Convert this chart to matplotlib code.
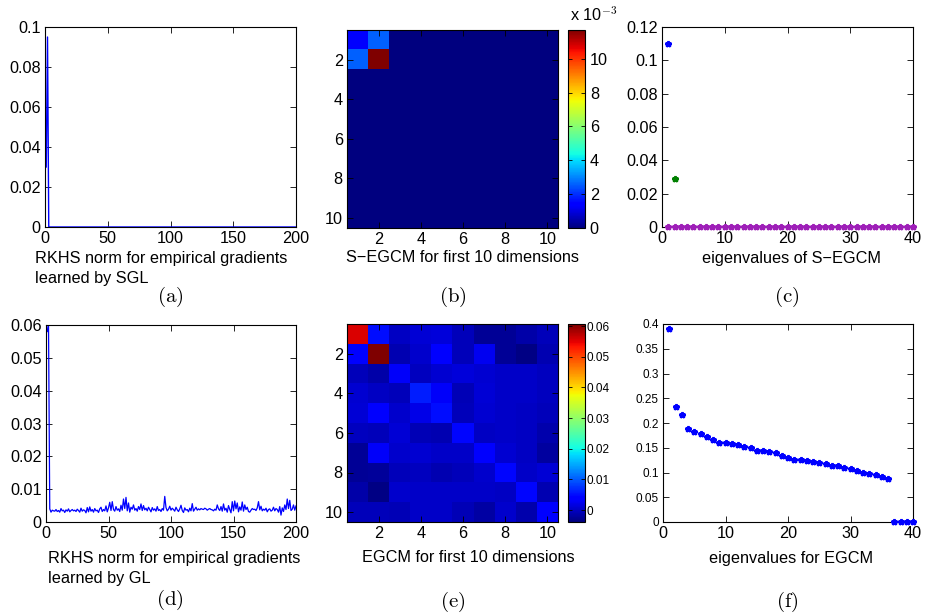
import numpy as np
import matplotlib
matplotlib.use("Agg")
import matplotlib.pyplot as plt
from matplotlib.ticker import FuncFormatter, FormatStrFormatter

plt.rcParams['font.family'] = ['Liberation Sans', 'DejaVu Sans']
plt.rcParams['mathtext.fontset'] = 'cm'

# ---------------- data ----------------
# (a) RKHS norm, SGL (200 dims)
sgl_norm_head = [0.030, 0.095]          # first two dims, rest are zero
n_dims = 200

# (d) RKHS norm, GL (200 dims)
gl_norm = [
    0.058, 0.0605, 0.0040, 0.0030, 0.0036, 0.0034, 0.0033, 0.0038, 0.0032, 0.0035,
    0.0030, 0.0041, 0.0034, 0.0036, 0.0029, 0.0037, 0.0033, 0.0040, 0.0031, 0.0035,
    0.0038, 0.0034, 0.0036, 0.0032, 0.0039, 0.0035, 0.0030, 0.0042, 0.0033, 0.0037,
    0.0035, 0.0028, 0.0044, 0.0031, 0.0046, 0.0033, 0.0038, 0.0030, 0.0041, 0.0034,
    0.0036, 0.0029, 0.0040, 0.0045, 0.0032, 0.0038, 0.0034, 0.0049, 0.0031, 0.0043,
    0.0060, 0.0035, 0.0062, 0.0038, 0.0033, 0.0047, 0.0036, 0.0040, 0.0032, 0.0051,
    0.0036, 0.0070, 0.0041, 0.0075, 0.0034, 0.0058, 0.0030, 0.0045, 0.0039, 0.0052,
    0.0036, 0.0041, 0.0033, 0.0047, 0.0038, 0.0055, 0.0035, 0.0050, 0.0037, 0.0042,
    0.0034, 0.0045, 0.0038, 0.0031, 0.0044, 0.0036, 0.0040, 0.0033, 0.0047, 0.0035,
    0.0038, 0.0032, 0.0041, 0.0036, 0.0078, 0.0044, 0.0034, 0.0039, 0.0048, 0.0036,
    0.0042, 0.0038, 0.0033, 0.0045, 0.0037, 0.0032, 0.0040, 0.0051, 0.0035, 0.0029,
    0.0043, 0.0036, 0.0038, 0.0031, 0.0042, 0.0034, 0.0056, 0.0033, 0.0039, 0.0045,
    0.0036, 0.0040, 0.0037, 0.0041, 0.0039, 0.0038, 0.0042, 0.0040, 0.0036, 0.0039,
    0.0041, 0.0038, 0.0037, 0.0034, 0.0039, 0.0036, 0.0052, 0.0040, 0.0035, 0.0047,
    0.0033, 0.0055, 0.0036, 0.0042, 0.0030, 0.0050, 0.0038, 0.0028, 0.0062, 0.0034,
    0.0064, 0.0040, 0.0058, 0.0031, 0.0046, 0.0036, 0.0061, 0.0033, 0.0052, 0.0038,
    0.0045, 0.0032, 0.0030, 0.0036, 0.0041, 0.0038, 0.0039, 0.0035, 0.0043, 0.0062,
    0.0037, 0.0048, 0.0034, 0.0039, 0.0036, 0.0042, 0.0031, 0.0038, 0.0040, 0.0033,
    0.0036, 0.0045, 0.0034, 0.0041, 0.0038, 0.0030, 0.0047, 0.0021, 0.0043, 0.0032,
    0.0052, 0.0038, 0.0070, 0.0041, 0.0066, 0.0035, 0.0039, 0.0052, 0.0036, 0.0049,
]

# (b) S-EGCM first 10 dims (only 2x2 block non-zero)
segcm_block = [[0.0013, 0.0026],
               [0.0026, 0.0117]]
segcm_vmax = 0.0117

# (e) EGCM first 10 dims
egcm = [
    [0.0555, 0.0050, 0.0000, 0.0010, 0.0012, -0.0005, -0.0025, -0.0025, -0.0015, -0.0005],
    [0.0040, 0.0607, -0.0010, 0.0005, 0.0040, -0.0005, 0.0025, -0.0025, -0.0035, -0.0010],
    [-0.0005, -0.0015, 0.0030, -0.0002, 0.0008, 0.0012, 0.0008, 0.0003, 0.0003, -0.0002],
    [0.0008, 0.0001, -0.0005, 0.0060, 0.0030, -0.0008, 0.0010, 0.0003, 0.0002, -0.0003],
    [0.0010, 0.0040, 0.0006, 0.0020, 0.0050, -0.0006, 0.0008, 0.0003, 0.0000, -0.0005],
    [-0.0003, -0.0006, 0.0009, -0.0008, -0.0009, 0.0045, 0.0000, 0.0003, 0.0000, -0.0012],
    [-0.0025, 0.0030, 0.0006, 0.0008, 0.0002, 0.0002, 0.0040, 0.0007, -0.0001, -0.0020],
    [-0.0025, -0.0022, -0.0005, -0.0002, -0.0009, -0.0005, 0.0005, 0.0045, 0.0002, 0.0010],
    [-0.0015, -0.0035, 0.0006, 0.0003, 0.0003, 0.0003, 0.0002, 0.0000, 0.0045, -0.0010],
    [-0.0005, -0.0005, -0.0008, 0.0002, 0.0002, -0.0008, -0.0018, 0.0006, -0.0012, 0.0040],
]
egcm_vmin, egcm_vmax = -0.0039, 0.0607

# (c) eigenvalues of S-EGCM
eig_s_first = [0.110]
eig_s_second = [0.029]
n_eig = 40

# (f) eigenvalues of EGCM
eig_full = [0.390, 0.233, 0.216, 0.188, 0.182, 0.178, 0.171, 0.165, 0.160, 0.160,
            0.157, 0.155, 0.152, 0.150, 0.144, 0.143, 0.142, 0.139, 0.133, 0.129,
            0.126, 0.125, 0.123, 0.121, 0.119, 0.117, 0.113, 0.113, 0.109, 0.108,
            0.103, 0.100, 0.097, 0.094, 0.091, 0.086, 0.0, 0.0, 0.0, 0.0]

# ---------------- layout ----------------
W, H = 931, 613
fig = plt.figure(figsize=(W / 100, H / 100), dpi=100)

FS = 11.7


def rect(l, t, r, b):
    return [l / W, 1 - b / H, (r - l) / W, (b - t) / H]


def matlab_style(ax, fs=FS):
    ax.tick_params(direction='in', top=True, right=True, length=4, width=0.6,
                   labelsize=fs, pad=3)
    for s in ax.spines.values():
        s.set_linewidth(0.8)


def ftext(x, y, s, **kw):
    fig.text(x / W, 1 - y / H, s, va='center', **kw)


blue = (0, 0, 1)
MK = dict(linestyle='none', marker='*', ms=4, mew=1.8, clip_on=False)

# (a)
axa = fig.add_axes(rect(45, 27, 296, 227))
ya = np.zeros(n_dims)
ya[:len(sgl_norm_head)] = sgl_norm_head
axa.plot(np.arange(1, n_dims + 1), ya, color=blue, lw=1.0)
axa.set_xlim(0, 200)
axa.set_ylim(0, 0.1)
axa.set_xticks([0, 50, 100, 150, 200])
axa.set_yticks([0, 0.02, 0.04, 0.06, 0.08, 0.1])
axa.yaxis.set_major_formatter(FormatStrFormatter('%g'))
matlab_style(axa)
ftext(35, 258, 'RKHS norm for empirical gradients', ha='left', fontsize=FS)
ftext(35, 278, 'learned by SGL', ha='left', fontsize=FS)
ftext(170, 297, r'$\mathrm{(a)}$', ha='center', fontsize=15)

# (b)
axb = fig.add_axes(rect(347, 30, 558, 228))
mb = np.zeros((10, 10))
mb[:2, :2] = segcm_block
imb = axb.imshow(mb, cmap='jet', vmin=0, vmax=segcm_vmax, aspect='auto',
                 interpolation='nearest', extent=(0.5, 10.5, 10.5, 0.5))
axb.set_xticks([2, 4, 6, 8, 10])
axb.set_yticks([2, 4, 6, 8, 10])
matlab_style(axb)
caxb = fig.add_axes(rect(568, 30, 585, 228))
cbb = fig.colorbar(imb, cax=caxb, ticks=[0, 0.002, 0.004, 0.006, 0.008, 0.010])
cbb.ax.yaxis.set_major_formatter(FuncFormatter(lambda v, p: '%g' % round(v * 1000)))
cbb.ax.tick_params(direction='in', length=3, width=0.6, labelsize=FS, left=True)
cbb.outline.set_linewidth(0.8)
ftext(570, 14, r'x 10$^{-3}$', ha='left', fontsize=FS)
ftext(463, 258, 'S\u2212EGCM for first 10 dimensions', ha='center', fontsize=FS)
ftext(453, 297, r'$\mathrm{(b)}$', ha='center', fontsize=15)

# (c)
axc = fig.add_axes(rect(662, 27, 913, 227))
xe = np.arange(1, n_eig + 1)
axc.plot(xe, np.zeros(n_eig), color=(0.62, 0.12, 0.72), zorder=3, **MK)
axc.plot([1], eig_s_first, color=blue, zorder=3, **MK)
axc.plot([2], eig_s_second, color=(0, 0.5, 0), zorder=3, **MK)
axc.set_xlim(0, 40)
axc.set_ylim(0, 0.12)
axc.set_xticks([0, 10, 20, 30, 40])
axc.set_yticks([0, 0.02, 0.04, 0.06, 0.08, 0.1, 0.12])
axc.yaxis.set_major_formatter(FormatStrFormatter('%g'))
matlab_style(axc)
ftext(791, 258, 'eigenvalues of S\u2212EGCM', ha='center', fontsize=FS)
ftext(787, 297, r'$\mathrm{(c)}$', ha='center', fontsize=15)

# (d)
axd = fig.add_axes(rect(46, 325, 296, 522))
axd.plot(np.arange(1, len(gl_norm) + 1), gl_norm, color=blue, lw=0.9)
axd.set_xlim(0, 200)
axd.set_ylim(0, 0.06)
axd.set_xticks([0, 50, 100, 150, 200])
axd.set_yticks([0, 0.01, 0.02, 0.03, 0.04, 0.05, 0.06])
axd.yaxis.set_major_formatter(FormatStrFormatter('%g'))
matlab_style(axd)
ftext(48, 558, 'RKHS norm for empirical gradients', ha='left', fontsize=FS)
ftext(48, 578, 'learned by GL', ha='left', fontsize=FS)
ftext(170, 600, r'$\mathrm{(d)}$', ha='center', fontsize=15)

# (e)
axe = fig.add_axes(rect(347, 324, 558, 522))
ime = axe.imshow(np.array(egcm), cmap='jet', vmin=egcm_vmin, vmax=egcm_vmax,
                 aspect='auto', interpolation='nearest',
                 extent=(0.5, 10.5, 10.5, 0.5))
axe.set_xticks([2, 4, 6, 8, 10])
axe.set_yticks([2, 4, 6, 8, 10])
matlab_style(axe)
caxe = fig.add_axes(rect(568, 324, 585, 522))
cbe = fig.colorbar(ime, cax=caxe, ticks=[0, 0.01, 0.02, 0.03, 0.04, 0.05, 0.06])
cbe.ax.yaxis.set_major_formatter(FormatStrFormatter('%g'))
cbe.ax.tick_params(direction='in', length=3, width=0.6, labelsize=8.5, left=True,
                   pad=1)
cbe.outline.set_linewidth(0.8)
ftext(468, 557, 'EGCM for first 10 dimensions', ha='center', fontsize=FS)
ftext(453, 602, r'$\mathrm{(e)}$', ha='center', fontsize=15)

# (f)
axf = fig.add_axes(rect(663, 324, 913, 522))
axf.plot(np.arange(1, len(eig_full) + 1), eig_full, color=blue, zorder=3, **MK)
axf.set_xlim(0, 40)
axf.set_ylim(0, 0.4)
axf.set_xticks([0, 10, 20, 30, 40])
axf.set_yticks([0, 0.05, 0.1, 0.15, 0.2, 0.25, 0.3, 0.35, 0.4])
axf.yaxis.set_major_formatter(FormatStrFormatter('%g'))
matlab_style(axf)
axf.tick_params(axis='y', labelsize=8.5)
ftext(791, 558, 'eigenvalues for EGCM', ha='center', fontsize=FS)
ftext(787, 602, r'$\mathrm{(f)}$', ha='center', fontsize=15)

fig.savefig('out.png', dpi=100)
